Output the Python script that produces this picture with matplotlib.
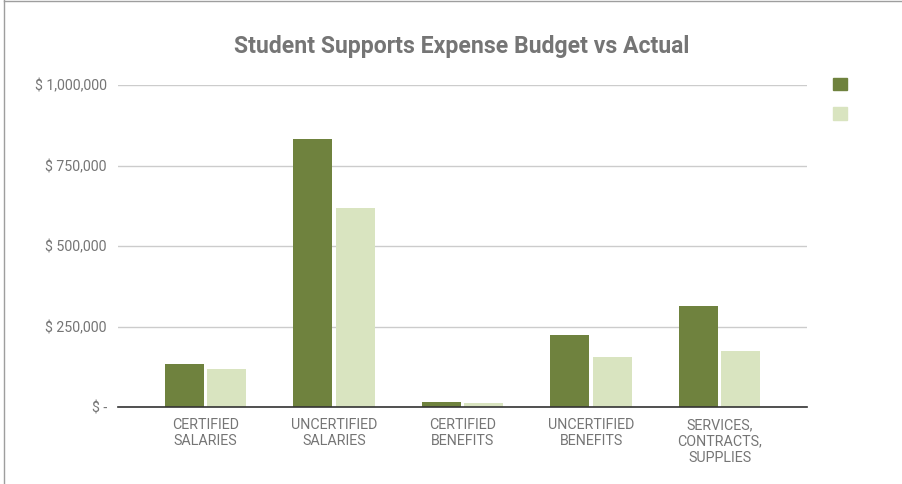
import matplotlib.pyplot as plt
import numpy as np
from matplotlib.patches import Patch
from matplotlib.lines import Line2D
from matplotlib.ticker import FuncFormatter

# Data for the chart
categories = [
    "CERTIFIED\nSALARIES",
    "UNCERTIFIED\nSALARIES",
    "CERTIFIED\nBENEFITS",
    "UNCERTIFIED\nBENEFITS",
    "SERVICES,\nCONTRACTS,\nSUPPLIES",
]
budget = [133000, 831000, 14500, 223000, 314000]
actual = [119000, 617000, 13000, 155000, 174000]
y_ticks = [0, 250000, 500000, 750000, 1000000]

dark_green = '#6f823e'
light_green = '#d9e4c0'
gray_text = '#757575'

plt.rcParams['font.family'] = ['Roboto', 'DejaVu Sans']

fig = plt.figure(figsize=(9.03, 4.84), dpi=100)
ax = fig.add_axes([118 / 903, 77 / 484, 689 / 903, 322 / 484])

x = np.arange(len(categories))
width = 0.303
offset = 0.165
ax.bar(x - offset, budget, width, color=dark_green, zorder=3)
ax.bar(x + offset, actual, width, color=light_green, zorder=3)

ax.set_xlim(-0.68, 4.68)
ax.set_ylim(0, 1000000)
ax.set_xticks(x)
ax.set_xticklabels(categories, fontsize=10.3, color=gray_text, linespacing=1.2)
ax.set_yticks(y_ticks)


def money(v, pos):
    if v == 0:
        return '$ -'
    return f'$ {v:,.0f}'


ax.yaxis.set_major_formatter(FuncFormatter(money))
ax.tick_params(axis='y', length=0, pad=8, labelsize=10.2, labelcolor=gray_text)
ax.tick_params(axis='x', length=0, pad=8)

ax.grid(axis='y', color='#cccccc', linewidth=1, zorder=0)
for side in ['top', 'right', 'left']:
    ax.spines[side].set_visible(False)
ax.spines['bottom'].set_color('#333333')
ax.spines['bottom'].set_linewidth(1.2)
ax.spines['bottom'].set_zorder(4)

# Title
fig.text(462 / 903, 1 - 46 / 484, 'Student Supports Expense Budget vs Actual',
         ha='center', va='center', fontsize=16.6, fontweight='bold', color=gray_text)

# Legend (swatches only)
handles = [Patch(color=dark_green), Patch(color=light_green)]
fig.legend(handles, ['', ''], loc='upper left', bbox_to_anchor=(826 / 903, 1 - 71 / 484),
           frameon=False, fontsize=10, handlelength=1.0, handleheight=1.0,
           labelspacing=1.1, borderpad=0, handletextpad=0)

# Screenshot frame on left and top
fig.add_artist(Line2D([4 / 903, 4 / 903], [0, 1], transform=fig.transFigure, color='#9e9e9e', linewidth=1))
fig.add_artist(Line2D([4 / 903, 1], [1 - 0.5 / 484, 1 - 0.5 / 484], transform=fig.transFigure, color='#9e9e9e', linewidth=1))

fig.savefig('out.png', dpi=100)
